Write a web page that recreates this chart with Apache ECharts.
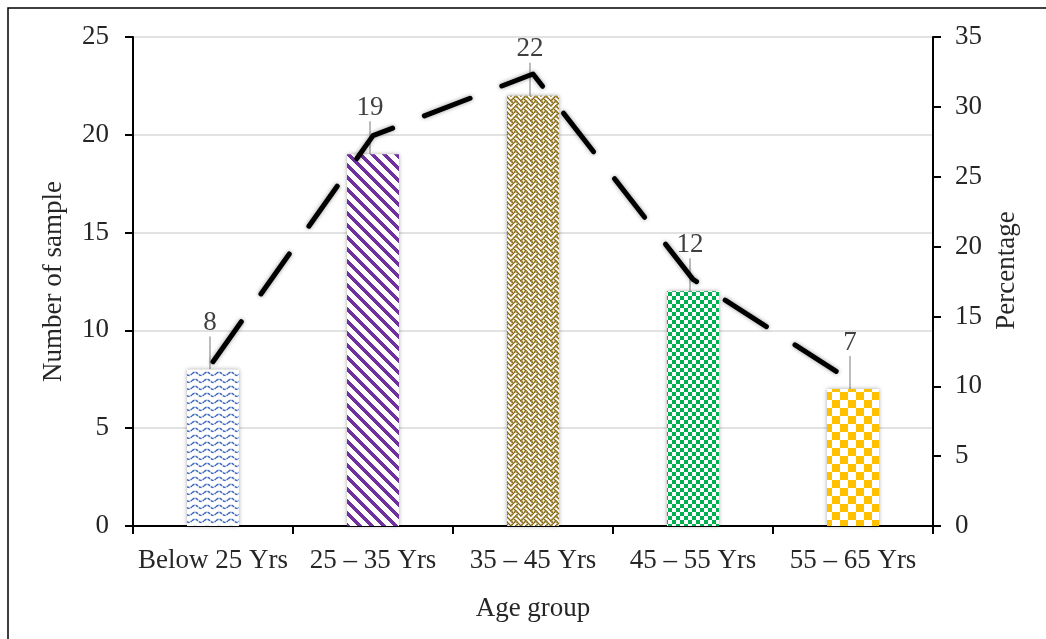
<!DOCTYPE html>
<html>
<head>
<meta charset="utf-8">
<script src="https://cdn.jsdelivr.net/npm/echarts@6/dist/echarts.min.js"></script>
<style>
  html, body { margin: 0; padding: 0; background: #ffffff; }
  #chart { width: 1046px; height: 639px; }
</style>
</head>
<body>
<div id="chart"></div>
<script>
// Age distribution of the sample
const categories = ['Below 25 Yrs', '25 \u2013 35 Yrs', '35 \u2013 45 Yrs', '45 \u2013 55 Yrs', '55 \u2013 65 Yrs'];
const sampleCounts = [8, 19, 22, 12, 7];
const percentages = [11.76, 27.94, 32.35, 17.65, 10.29];
const leftTicks = [0, 5, 10, 15, 20, 25];
const rightTicks = [0, 5, 10, 15, 20, 25, 30, 35];

// ---- pattern fills -------------------------------------------------------
function makeTile(w, h, painter) {
  const c = document.createElement('canvas');
  c.width = w; c.height = h;
  const ctx = c.getContext('2d');
  ctx.fillStyle = '#ffffff';
  ctx.fillRect(0, 0, w, h);
  painter(ctx);
  return c;
}

// blue waves
const waveTile = makeTile(12, 7, ctx => {
  ctx.strokeStyle = '#3A66C0';
  ctx.lineWidth = 1.5;
  ctx.setLineDash([3, 1]);
  ctx.beginPath();
  for (let x = 0; x <= 12; x += 0.5) {
    const y = 2.8 - 1.6 * Math.sin((x / 12) * Math.PI * 2);
    if (x === 0) ctx.moveTo(x, y); else ctx.lineTo(x, y);
  }
  ctx.stroke();
});

// purple downward diagonal stripes
const stripeTile = makeTile(12, 12, ctx => {
  ctx.fillStyle = '#7030A0';
  for (let y = 0; y < 12; y++) {
    for (let x = 0; x < 12; x++) {
      if (((x - y) % 12 + 12) % 12 < 5) ctx.fillRect(x, y, 1, 1);
    }
  }
});

// gold weave, 8x8 bitmap drawn at a slightly larger cell size
const weaveBits = [0x88, 0x54, 0x22, 0x45, 0x88, 0x14, 0x22, 0x51];
const weaveTile = makeTile(10, 10, ctx => {
  ctx.fillStyle = '#85650C';
  for (let y = 0; y < 8; y++) {
    for (let x = 0; x < 8; x++) {
      if (weaveBits[y] & (0x80 >> x)) {
        ctx.fillRect(x * 1.25, y * 1.25, 1.7, 1.7);
        if (x === 7) ctx.fillRect(x * 1.25 - 10, y * 1.25, 1.7, 1.7);
        if (y === 7) ctx.fillRect(x * 1.25, y * 1.25 - 10, 1.7, 1.7);
      }
    }
  }
});

function checker(size, color) {
  return makeTile(size * 2, size * 2, ctx => {
    ctx.fillStyle = color;
    ctx.fillRect(0, 0, size, size);
    ctx.fillRect(size, size, size, size);
  });
}
const greenTile = checker(4, '#00B050');
const orangeTile = checker(8, '#FFC000');

const barTiles = [waveTile, stripeTile, weaveTile, greenTile, orangeTile];

// ---- chart ---------------------------------------------------------------
const FONT = '"Liberation Serif", "Times New Roman", serif';
const TEXT = '#262626';

const chart = echarts.init(document.getElementById('chart'), null, { renderer: 'canvas' });

chart.setOption({
  backgroundColor: '#ffffff',
  animation: false,
  textStyle: { fontFamily: FONT },
  graphic: [{
    type: 'rect',
    shape: { x: 8, y: 8, width: 1200, height: 800 },
    style: { fill: 'none', stroke: '#000000', lineWidth: 1.5 },
    z: 100
  }],
  grid: { left: 133, right: 113, top: 37, bottom: 113 },
  xAxis: {
    type: 'category',
    data: categories,
    name: 'Age group',
    nameLocation: 'middle',
    nameGap: 69,
    nameTextStyle: { fontFamily: FONT, fontSize: 27, color: TEXT },
    axisLine: { lineStyle: { color: '#000000', width: 2 } },
    axisTick: { show: true, alignWithLabel: false, length: 8, lineStyle: { color: '#000000', width: 2 } },
    axisLabel: { fontFamily: FONT, fontSize: 27, color: TEXT, margin: 21, interval: 0 }
  },
  yAxis: [{
    type: 'value',
    min: leftTicks[0],
    max: leftTicks[leftTicks.length - 1],
    interval: 5,
    name: 'Number of sample',
    nameLocation: 'middle',
    nameGap: 66,
    nameTextStyle: { fontFamily: FONT, fontSize: 27, color: TEXT },
    axisLine: { show: true, lineStyle: { color: '#000000', width: 2 } },
    axisTick: { show: true, length: 8, lineStyle: { color: '#000000', width: 2 } },
    axisLabel: { fontFamily: FONT, fontSize: 27, color: TEXT, margin: 24 },
    splitLine: { show: true, lineStyle: { color: '#d9d9d9', width: 1.5 } }
  }, {
    type: 'value',
    position: 'right',
    min: rightTicks[0],
    max: rightTicks[rightTicks.length - 1],
    interval: 5,
    name: 'Percentage',
    nameLocation: 'middle',
    nameGap: 60,
    nameRotate: 90,
    nameTextStyle: { fontFamily: FONT, fontSize: 27, color: TEXT, padding: [0, 0, 0, 22] },
    axisLine: { show: true, lineStyle: { color: '#000000', width: 2 } },
    axisTick: { show: true, length: 8, lineStyle: { color: '#000000', width: 2 } },
    axisLabel: { fontFamily: FONT, fontSize: 27, color: TEXT, margin: 22 },
    splitLine: { show: false }
  }],
  series: [{
    type: 'bar',
    yAxisIndex: 0,
    barWidth: 52,
    data: sampleCounts.map((v, i) => ({
      value: v,
      itemStyle: {
        color: { image: barTiles[i], repeat: 'repeat' },
        shadowBlur: 4,
        shadowColor: 'rgba(0,0,0,0.35)'
      }
    })),
    label: {
      show: true,
      position: 'top',
      distance: 4,
      fontFamily: FONT,
      fontSize: 27,
      color: '#404040'
    },
    labelLayout: { dy: -29, dx: -3 },
    labelLine: { show: true, lineStyle: { color: '#a6a6a6', width: 1.5 } },
    z: 2
  }, {
    type: 'line',
    yAxisIndex: 1,
    data: percentages,
    symbol: 'none',
    smooth: false,
    lineStyle: {
      color: '#000000',
      width: 5,
      type: [49, 34],
      cap: 'round',
      join: 'round',
      shadowBlur: 4,
      shadowColor: 'rgba(0,0,0,0.4)'
    },
    z: 3
  }]
});
</script>
</body>
</html>
